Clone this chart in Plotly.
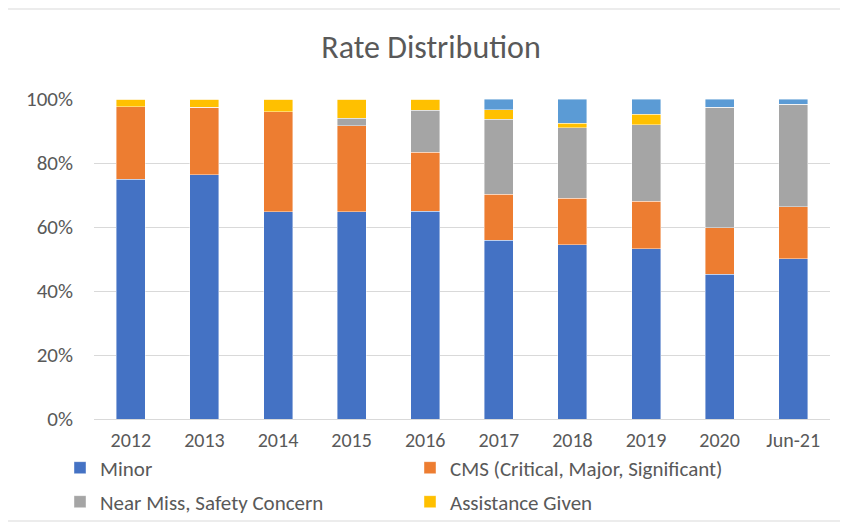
import plotly.graph_objects as go

categories = ["2012", "2013", "2014", "2015", "2016", "2017", "2018", "2019", "2020", "Jun-21"]
minor = [0.750, 0.763, 0.647, 0.647, 0.650, 0.558, 0.544, 0.532, 0.452, 0.501]
cms = [0.226, 0.211, 0.313, 0.269, 0.183, 0.144, 0.146, 0.149, 0.145, 0.162]
near_miss = [0.0, 0.0, 0.0, 0.024, 0.132, 0.235, 0.220, 0.238, 0.378, 0.320]
assistance = [0.024, 0.026, 0.040, 0.060, 0.035, 0.029, 0.015, 0.033, 0.0, 0.0]
other = [0.0, 0.0, 0.0, 0.0, 0.0, 0.034, 0.075, 0.048, 0.025, 0.017]
y_ticks = [0, 0.2, 0.4, 0.6, 0.8, 1.0]

FONT = "Calibri, Carlito, Lato, sans-serif"
TXT = "#595959"
GRID = "#D9D9D9"

series = [
    ("Minor", minor, "#4472C4", "legend", True),
    ("CMS (Critical, Major, Significant)", cms, "#ED7D31", "legend2", True),
    ("Near Miss, Safety Concern", near_miss, "#A5A5A5", "legend3", True),
    ("Assistance Given", assistance, "#FFC000", "legend4", True),
    ("Other", other, "#5B9BD5", "legend", False),
]

fig = go.Figure()
for name, vals, color, leg, show in series:
    fig.add_trace(go.Bar(
        x=categories, y=vals, name=name,
        marker=dict(color=color, line=dict(color="rgba(255,255,255,0.6)", width=0.7)),
        legend=leg, showlegend=show,
    ))

# page body has an 8px margin; figure coordinates are page coordinates minus 8
OFF = 8
W, H = 840, 515
L, R, T, B = 94 - OFF, 18, 99 - OFF, 104
PW, PH = W - L - R, H - T - B

def leg(xpx, ypx):
    return dict(xref="container", yref="container", x=(xpx - OFF) / W, y=1 - (ypx - OFF) / H,
                xanchor="left", yanchor="middle", orientation="h",
                bgcolor="rgba(0,0,0,0)", font=dict(family=FONT, size=21, color=TXT),
                itemwidth=30)

fig.update_layout(
    width=W, height=H,
    margin=dict(l=L, r=R, t=T, b=B, autoexpand=False),
    paper_bgcolor="white", plot_bgcolor="white",
    barmode="stack", bargap=0.606,
    title=dict(text="Rate Distribution", x=(431 - OFF) / W, xanchor="center", xref="container",
               y=1 - (47 - OFF) / H, yanchor="middle", yref="container",
               font=dict(family=FONT, size=32, color=TXT)),
    legend=leg(60, 468),
    legend2=leg(410, 468),
    legend3=leg(60, 502),
    legend4=leg(410, 502),
    xaxis=dict(tickfont=dict(family=FONT, size=20, color=TXT), showgrid=False,
               showline=True, linecolor=GRID, linewidth=1.3, ticks="",
               ticklabelstandoff=3),
    yaxis=dict(range=[0, 1.0], tickvals=y_ticks, tickformat=".0%",
               tickfont=dict(family=FONT, size=21, color=TXT),
               showgrid=True, gridcolor=GRID, gridwidth=1.3, zeroline=False,
               showline=False, ticks="", ticklabelstandoff=20),
    shapes=[dict(type="rect", xref="paper", yref="paper",
                 x0=(7 - 94) / PW, x1=(846 - 94) / PW,
                 y0=(419 - 521) / PH, y1=(419 - 9) / PH,
                 line=dict(color=GRID, width=1), fillcolor="rgba(0,0,0,0)", layer="below")],
)

fig.write_html("out.html")
